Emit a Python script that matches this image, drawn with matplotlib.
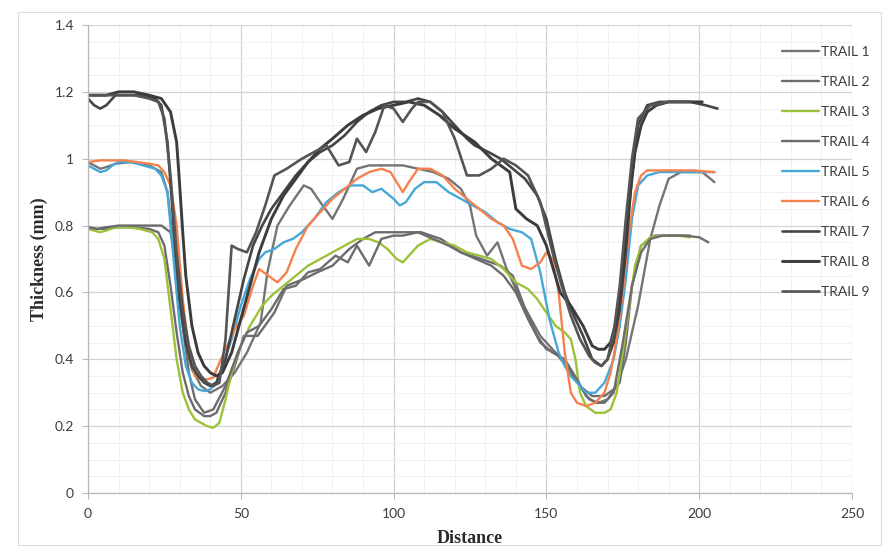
import matplotlib
matplotlib.use("Agg")
import matplotlib.pyplot as plt
from matplotlib.ticker import FuncFormatter, MultipleLocator
from matplotlib.patches import Rectangle

# trail data (distance, thickness in mm)
trail1_x = [0, 2, 4, 6, 9, 14, 20, 24, 26, 28, 30, 32, 34, 37, 40, 44, 48, 52, 56.5, 58.7, 62, 66, 70.6, 73, 76, 80, 83.5,
            88, 92, 97, 103, 108, 113, 118, 122, 125, 127, 130.6, 134, 137, 142.6, 148, 153, 157, 161, 164, 167, 170,
            173, 176, 180, 184, 187, 190, 194, 201, 205]
trail1_y = [0.99, 0.98, 0.97, 0.975, 0.985, 0.99, 0.98, 0.96, 0.90, 0.74, 0.56, 0.44, 0.37, 0.32, 0.30, 0.32, 0.36, 0.42,
            0.51, 0.66, 0.80, 0.86, 0.92, 0.91, 0.87, 0.82, 0.88, 0.97, 0.98, 0.98, 0.98, 0.97, 0.96, 0.94, 0.91, 0.86,
            0.77, 0.71, 0.75, 0.67, 0.56, 0.47, 0.42, 0.38, 0.32, 0.28, 0.27, 0.28, 0.32, 0.40, 0.56, 0.76, 0.86, 0.94,
            0.96, 0.96, 0.93]

trail2_x = [0, 3, 6, 10, 15, 20, 23, 25, 27, 29, 31, 33, 35, 38, 40, 42, 45, 48, 51, 55.5, 61, 65, 70.6, 75, 80, 85.5, 90,
            94, 99, 103, 109, 115.5, 122, 128.7, 135, 139, 143.5, 147, 150, 153, 156.5, 161, 165, 169, 172, 174, 176,
            178, 181, 185.5, 190, 197]
trail2_y = [0.795, 0.79, 0.79, 0.795, 0.795, 0.79, 0.78, 0.74, 0.62, 0.48, 0.36, 0.29, 0.25, 0.23, 0.23, 0.24, 0.30,
            0.38, 0.47, 0.47, 0.54, 0.62, 0.64, 0.66, 0.68, 0.73, 0.76, 0.78, 0.78, 0.78, 0.78, 0.76, 0.72, 0.70, 0.68,
            0.65, 0.54, 0.47, 0.43, 0.42, 0.38, 0.32, 0.29, 0.29, 0.31, 0.33, 0.45, 0.62, 0.74, 0.77, 0.77, 0.77]

trail3_x = [0, 2, 4, 6, 9, 13, 17, 21, 23, 25, 27, 29, 31, 33, 35, 37, 39, 41, 43, 45, 47, 49, 53, 57, 60, 64, 68, 72,
            76, 80, 84, 88, 92, 95, 98, 101, 103, 105, 108, 112, 116, 120, 124, 128, 132, 136, 140, 144, 147, 150, 153,
            156, 158, 159.5, 161, 163, 166, 169, 171, 173, 175, 177, 179, 181, 184, 188, 193, 197]
trail3_y = [0.79, 0.785, 0.78, 0.785, 0.795, 0.795, 0.79, 0.78, 0.76, 0.70, 0.55, 0.40, 0.30, 0.25, 0.22, 0.21, 0.20,
            0.195, 0.21, 0.28, 0.36, 0.42, 0.50, 0.56, 0.59, 0.62, 0.65, 0.68, 0.70, 0.72, 0.74, 0.76, 0.76, 0.75, 0.73,
            0.70, 0.69, 0.71, 0.74, 0.76, 0.75, 0.74, 0.72, 0.71, 0.70, 0.67, 0.63, 0.61, 0.58, 0.54, 0.50, 0.48, 0.46,
            0.40, 0.30, 0.26, 0.24, 0.24, 0.25, 0.30, 0.42, 0.55, 0.68, 0.74, 0.765, 0.77, 0.77, 0.765]

trail4_x = [0, 3, 6, 10, 15, 20, 24, 27, 29, 31, 33, 35, 38, 41, 45, 49, 52, 56, 60, 64, 68, 72, 76, 81, 85, 88, 92, 96,
            100, 103, 108, 113, 118, 122, 127, 132, 136, 140, 144, 148, 152, 156, 160, 163, 166, 169, 172, 175, 178,
            181, 184, 188, 195, 200, 203]
trail4_y = [0.795, 0.79, 0.795, 0.80, 0.80, 0.80, 0.80, 0.78, 0.68, 0.50, 0.36, 0.28, 0.24, 0.25, 0.32, 0.42, 0.48,
            0.50, 0.55, 0.61, 0.62, 0.66, 0.67, 0.71, 0.69, 0.74, 0.68, 0.76, 0.77, 0.77, 0.78, 0.76, 0.74, 0.72, 0.70,
            0.68, 0.65, 0.60, 0.52, 0.45, 0.42, 0.40, 0.34, 0.29, 0.27, 0.27, 0.30, 0.45, 0.62, 0.72, 0.76, 0.77, 0.77,
            0.765, 0.75]

trail5_x = [0, 2, 4, 6, 8, 10, 14, 18, 22, 24, 26, 28, 30, 32, 34, 36, 38, 40, 42, 44, 47, 50, 53, 56, 58, 61, 64, 67,
            70, 74, 78, 82, 86, 90, 93, 96, 100, 102, 104, 107, 110, 114, 118, 122, 126, 130, 134, 138, 142, 145, 148,
            151, 154, 156, 158, 160, 163, 166, 169, 172, 174, 176, 178, 180, 183, 187, 192, 197, 202, 205]
trail5_y = [0.98, 0.97, 0.96, 0.965, 0.98, 0.99, 0.99, 0.98, 0.97, 0.95, 0.90, 0.70, 0.50, 0.38, 0.33, 0.31, 0.305,
            0.31, 0.33, 0.38, 0.46, 0.56, 0.64, 0.70, 0.72, 0.73, 0.75, 0.76, 0.78, 0.82, 0.87, 0.90, 0.92, 0.92, 0.90,
            0.91, 0.88, 0.86, 0.87, 0.91, 0.93, 0.93, 0.90, 0.88, 0.86, 0.84, 0.81, 0.79, 0.78, 0.76, 0.66, 0.52, 0.42,
            0.38, 0.35, 0.33, 0.30, 0.30, 0.33, 0.40, 0.50, 0.64, 0.82, 0.92, 0.95, 0.96, 0.96, 0.96, 0.96, 0.96]

trail6_x = [0, 4, 8, 12, 16, 20, 23, 25, 27, 29, 31, 33, 35, 37, 39, 41, 43, 45, 48, 51, 54, 56, 59, 62, 65, 68, 72, 76,
            80, 84, 88, 92, 96, 99, 101, 103, 105, 108, 112, 116, 120, 124, 128, 132, 136, 139, 142, 145, 148, 150, 152,
            154, 156, 158, 160, 163, 166, 169, 171, 173, 175, 177, 179, 181, 183, 186, 192, 198, 205]
trail6_y = [0.99, 0.995, 0.995, 0.995, 0.99, 0.985, 0.98, 0.96, 0.92, 0.80, 0.58, 0.42, 0.35, 0.34, 0.34, 0.345, 0.39,
            0.43, 0.49, 0.53, 0.62, 0.67, 0.65, 0.63, 0.66, 0.73, 0.80, 0.84, 0.88, 0.91, 0.94, 0.96, 0.97, 0.96, 0.93,
            0.90, 0.93, 0.97, 0.97, 0.95, 0.91, 0.88, 0.85, 0.82, 0.80, 0.76, 0.68, 0.67, 0.69, 0.72, 0.70, 0.60, 0.42,
            0.30, 0.27, 0.26, 0.27, 0.30, 0.36, 0.46, 0.60, 0.78, 0.90, 0.95, 0.965, 0.965, 0.965, 0.965, 0.96]

trail7_x = [0, 2, 4, 6, 9, 13, 18, 22, 24, 26, 28, 30, 32, 34, 36, 38, 40, 42, 45, 48, 51, 54, 57, 60, 64, 68, 72, 76,
            80, 84, 88, 92, 96, 100, 104, 108, 112, 116, 120, 124, 126.5, 131, 135, 139, 143, 147, 150, 153, 156, 159,
            162, 165, 168, 170, 172, 174, 176, 178, 180, 183, 187, 192, 197, 202, 206]
trail7_y = [1.18, 1.16, 1.15, 1.16, 1.19, 1.19, 1.19, 1.18, 1.16, 1.05, 0.80, 0.58, 0.45, 0.38, 0.35, 0.33, 0.32, 0.33,
            0.40, 0.52, 0.64, 0.74, 0.80, 0.85, 0.90, 0.95, 0.99, 1.02, 1.04, 1.07, 1.11, 1.14, 1.16, 1.17, 1.17, 1.18,
            1.17, 1.14, 1.10, 1.06, 1.04, 1.02, 1.00, 0.97, 0.94, 0.89, 0.82, 0.70, 0.60, 0.53, 0.47, 0.40, 0.38, 0.40,
            0.45, 0.55, 0.72, 0.95, 1.10, 1.16, 1.17, 1.17, 1.17, 1.16, 1.15]

trail8_x = [0, 3, 6, 10, 15, 20, 24, 27, 29, 30, 31, 32, 34, 36, 38, 40, 42, 44, 47, 50, 53, 56, 60, 64, 68, 72, 76, 80,
            85, 90, 95, 100, 105, 110, 115, 120, 126.5, 132, 138, 140, 143.5, 147, 150, 154.5, 158, 162, 165, 167, 169,
            171, 173, 175, 177, 179, 181, 183, 186, 190, 195, 201]
trail8_y = [1.19, 1.19, 1.19, 1.20, 1.20, 1.19, 1.18, 1.14, 1.05, 0.92, 0.78, 0.65, 0.50, 0.42, 0.38, 0.36, 0.35, 0.36,
            0.42, 0.52, 0.62, 0.72, 0.82, 0.89, 0.94, 0.99, 1.03, 1.06, 1.10, 1.13, 1.15, 1.16, 1.17, 1.16, 1.13, 1.09,
            1.05, 1.00, 0.96, 0.85, 0.82, 0.80, 0.74, 0.60, 0.56, 0.50, 0.44, 0.43, 0.43, 0.45, 0.52, 0.66, 0.86, 1.02,
            1.10, 1.14, 1.16, 1.17, 1.17, 1.17]

trail9_x = [0, 3, 6, 10, 15, 20, 23, 25, 27, 29, 31, 33, 35, 37, 39, 41, 43, 45, 47, 49, 52, 55, 58, 61, 65, 70, 74, 78,
            82, 85.5, 88, 91, 94, 97, 100, 103, 106, 108, 112, 116, 120, 124, 128, 132, 136, 140, 144, 148, 152, 155,
            158, 161, 164, 166, 168, 170, 172, 174, 176, 178, 180, 184, 190, 197]
trail9_y = [1.19, 1.19, 1.19, 1.19, 1.19, 1.18, 1.17, 1.12, 0.95, 0.72, 0.55, 0.44, 0.38, 0.35, 0.33, 0.32, 0.33, 0.46,
            0.74, 0.73, 0.72, 0.78, 0.86, 0.95, 0.97, 1.00, 1.02, 1.04, 0.98, 0.99, 1.06, 1.02, 1.08, 1.16, 1.15, 1.11,
            1.15, 1.17, 1.17, 1.14, 1.06, 0.95, 0.95, 0.97, 1.00, 0.98, 0.95, 0.87, 0.72, 0.62, 0.53, 0.46, 0.41, 0.39,
            0.38, 0.40, 0.48, 0.62, 0.82, 1.00, 1.12, 1.16, 1.17, 1.17]

trail_names = ["TRAIL 1", "TRAIL 2", "TRAIL 3", "TRAIL 4", "TRAIL 5", "TRAIL 6", "TRAIL 7", "TRAIL 8", "TRAIL 9"]
trail_xs = [trail1_x, trail2_x, trail3_x, trail4_x, trail5_x, trail6_x, trail7_x, trail8_x, trail9_x]
trail_ys = [trail1_y, trail2_y, trail3_y, trail4_y, trail5_y, trail6_y, trail7_y, trail8_y, trail9_y]
trail_colors = ["#747474", "#6e6a72", "#9cc23a", "#6c6c6c", "#45a8d6", "#f5824e", "#454545", "#3c3c3c", "#555555"]
trail_widths = [1.7, 1.7, 1.7, 1.7, 1.7, 1.7, 1.9, 2.1, 1.9]

fig = plt.figure(figsize=(8.83, 5.48), dpi=100)
fig.patch.set_facecolor("white")
ax = fig.add_axes([88 / 883, 1 - 493 / 548, (852 - 88) / 883, (493 - 25) / 548])

for name, xs, ys, c, lw in zip(trail_names, trail_xs, trail_ys, trail_colors, trail_widths):
    ax.plot(xs, ys, color=c, lw=lw, label=name, solid_joinstyle="round", solid_capstyle="round")

ax.set_xlim(0, 250)
ax.set_ylim(0, 1.4)
ax.xaxis.set_major_locator(MultipleLocator(50))
ax.yaxis.set_major_locator(MultipleLocator(0.2))
ax.xaxis.set_minor_locator(MultipleLocator(10))
ax.yaxis.set_minor_locator(MultipleLocator(0.05))
ax.yaxis.set_major_formatter(FuncFormatter(lambda v, p: "%g" % round(v, 1)))
ax.grid(which="major", color="#d4d4d4", lw=0.9)
ax.grid(which="minor", color="#efefef", lw=0.6)
ax.set_axisbelow(True)

for s in ["top", "right"]:
    ax.spines[s].set_visible(False)
for s in ["left", "bottom"]:
    ax.spines[s].set_color("#b8b8b8")
    ax.spines[s].set_linewidth(0.9)

ax.tick_params(which="major", labelsize=10, colors="#b8b8b8", labelcolor="#3c3c3c", length=4)
ax.tick_params(which="minor", length=0)
for lab in ax.get_xticklabels() + ax.get_yticklabels():
    lab.set_family("Lato")
ax.tick_params(axis="y", pad=6)
ax.tick_params(axis="x", pad=7)

ax.set_xlabel("Distance", family="Liberation Serif", fontweight="bold", fontsize=13, color="#2a2a2a", labelpad=7)
ax.set_ylabel("Thickness (mm)", family="Liberation Serif", fontweight="bold", fontsize=13, color="#2a2a2a", labelpad=5)

leg = fig.legend(loc="upper left", bbox_to_anchor=(776 / 883, 1 - 40 / 548), frameon=False,
                 prop={"family": "Lato", "size": 10}, labelspacing=1.3, handlelength=2.7, handletextpad=0.15,
                 borderaxespad=0)
for t in leg.get_texts():
    t.set_color("#3c3c3c")

# faint frame of the chart area from the scan
fig.patches.append(Rectangle((18 / 883, 3 / 548), 1 - 20 / 883, 1 - 15 / 548, transform=fig.transFigure,
                             fill=False, edgecolor="#dcdcdc", lw=0.8))

fig.savefig("out.png", dpi=100)
